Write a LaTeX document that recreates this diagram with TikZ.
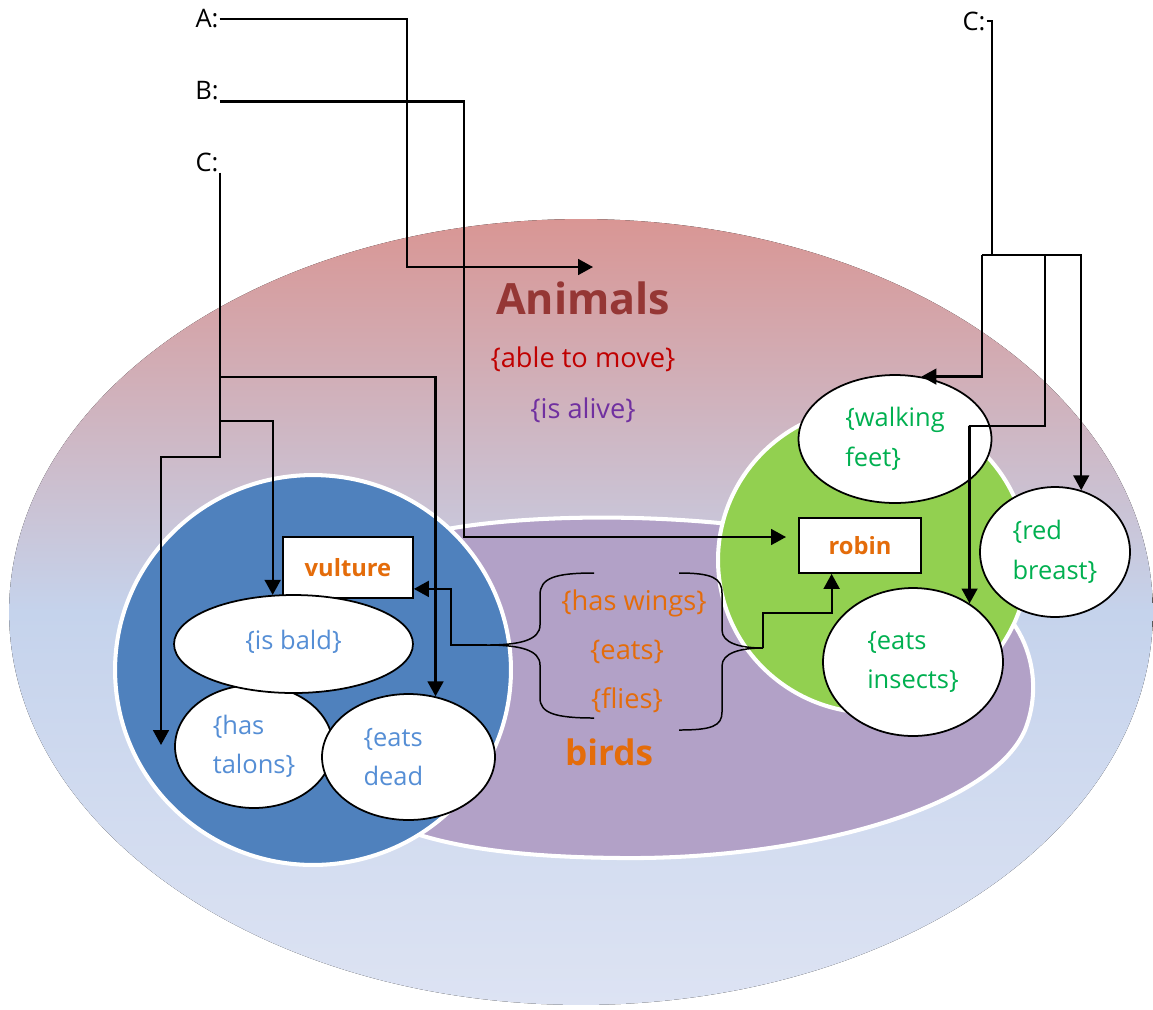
\documentclass[tikz,border=0pt]{standalone}
\usepackage{fontspec}
\setmainfont{Open Sans}
\usepackage{tikz}
\usetikzlibrary{shapes.geometric,arrows.meta}

\definecolor{animalTop}{HTML}{D99694}
\definecolor{animalMid}{HTML}{C5D3EC}
\definecolor{animalBot}{HTML}{DDE3F3}
\definecolor{animalRed}{HTML}{953735}
\definecolor{moveRed}{HTML}{C00000}
\definecolor{alivePurple}{HTML}{7030A0}
\definecolor{birdOrange}{HTML}{E46C0A}
\definecolor{birdPurple}{HTML}{B2A1C7}
\definecolor{vultBlue}{HTML}{4F81BD}
\definecolor{vultText}{HTML}{558ED5}
\definecolor{robinGreen}{HTML}{92D050}
\definecolor{robinText}{HTML}{00B050}

\begin{document}
\begin{tikzpicture}[x=0.02cm, y=-0.02cm,
  every node/.style={font=\fontsize{14.5}{22.5}\selectfont},
  big/.style={font=\fontsize{15.5}{20}\selectfont},
  conn/.style={line width=1.25pt},
  arr/.style={conn, -{Triangle[length=8.5pt,width=9pt]}},
  brc/.style={line width=0.85pt},
  lbl/.style={inner sep=0.5pt},
  region/.style={draw=white, line width=2.3pt},
  oval/.style={ellipse, draw, fill=white, line width=1pt, inner sep=0pt, align=left},
  namebox/.style={rectangle, draw, fill=white, line width=1pt, text=birdOrange, font=\fontsize{13.5}{16}\selectfont\bfseries}]
  \useasboundingbox (0,0) rectangle (1153,1009);

  % regions
  \fill[top color=animalTop, bottom color=animalBot, middle color=animalMid] (581,612) ellipse [x radius=11.44cm, y radius=7.86cm];
  \filldraw[fill=birdPurple, region] (420,535) .. controls (520,508) and (800,505) .. (960,580) .. controls (1030,612) and (1045,680) .. (1025,730) .. controls (990,810) and (800,860) .. (620,858) .. controls (520,857) and (440,848) .. (380,820) .. controls (300,780) and (300,600) .. (420,535) -- cycle;
  \filldraw[fill=vultBlue, region] (313,670) ellipse [x radius=3.96cm, y radius=3.9cm];
  \filldraw[fill=robinGreen, region] (873,560) ellipse [x radius=3.1cm, y radius=3.06cm];

  \node[text=animalRed, font=\fontsize{24.5}{28}\selectfont\bfseries] (animals) at (583,298) {Animals};
  \node[big, text=moveRed] (move) at (583,359) {\{able to move\}};
  \node[big, text=alivePurple] (alive) at (583,410) {\{is alive\}};

  \node[big, text=birdOrange] (wings) at (634,603) {\{has wings\}};
  \node[big, text=birdOrange] (eats) at (627,652) {\{eats\}};
  \node[big, text=birdOrange] (flies) at (627,700) {\{flies\}};
  \node[text=birdOrange, font=\fontsize{20}{24}\selectfont\bfseries] (birds) at (609,752) {birds};

  % vulture
  \node[oval, text=vultText, minimum width=3.16cm, minimum height=2.46cm] (talons) at (254,746.5) {\{has\\talons\}};
  \node[oval, text=vultText, minimum width=3.46cm, minimum height=2.52cm, text width=1.8cm] (dead) at (408.5,757) {\{eats\\dead};
  \node[namebox, minimum width=2.6cm, minimum height=1.22cm] (vulture) at (348,567.5) {vulture};
  \node[oval, text=vultText, minimum width=4.78cm, minimum height=1.96cm] (isbald) at (293.5,644) {\raisebox{5pt}{\{is bald\}}};

  % robin
  \node[namebox, minimum width=2.44cm, minimum height=1.1cm] (robin) at (860,545.5) {robin\hspace{8pt}};
  \node[oval, text=robinText, minimum width=3.86cm, minimum height=2.56cm] (walk) at (895,439) {\{walking\\feet\}};
  \node[oval, text=robinText, minimum width=3.0cm, minimum height=2.6cm] (breast) at (1055,552) {\{red\\breast\}};
  \node[oval, text=robinText, minimum width=3.6cm, minimum height=2.96cm] (insects) at (913,662) {\{eats\\insects\}};

  \node[lbl] (lblA) at (207,19) {A:};
  \node[lbl] (lblB) at (207,91) {B:};
  \node[lbl] (lblC) at (207,162) {C:};
  \node[lbl] (lblC2) at (974,21) {C:};

  \coordinate (animTip) at (593,267);
  \coordinate (robinTip) at (786,537);
  \coordinate (talonTip) at (161,745);
  \coordinate (lbTip) at (487,645);
  \coordinate (rbTip) at (763,648);

  % braces
  \draw[brc] (594,573) .. controls (555,573) and (540,578) .. (540,595) -- (540,625) .. controls (540,640) and (520,645) .. (lbTip) .. controls (520,645) and (540,650) .. (540,665) -- (540,698) .. controls (540,713) and (555,718) .. (594,718);
  \draw[brc] (679,573) .. controls (712,573) and (722,578) .. (722,593) -- (722,630) .. controls (722,643) and (740,648) .. (rbTip) .. controls (740,648) and (722,653) .. (722,666) -- (722,712) .. controls (722,726) and (712,730) .. (679,730);

  % connectors
  \draw[arr] (lblA.east) -| (407,267) -- (animTip);
  \draw[arr] (lblB.south east) -| (464,537) -- (robinTip);
  \draw[arr] (lblC.south east) |- (161,457) -- (talonTip);
  \draw[arr] (lblC.south east |- 0,377) -| (dead.66);
  \draw[arr] (lblC.south east |- 0,421) -| (isbald.113);
  \draw[conn] (lblC2.east) -| (992,255);
  \draw[arr] (982,255) -| (breast.67);
  \draw[arr] (982,255) |- (walk.67);
  \draw[arr] (1045,255) |- (969,426) -| (insects.46);
  \draw[arr] (lbTip) -- (451,645) |- (vulture.-18);
  \draw[arr] (rbTip) -- (763,613) -| (robin.-135);
\end{tikzpicture}
\end{document}
